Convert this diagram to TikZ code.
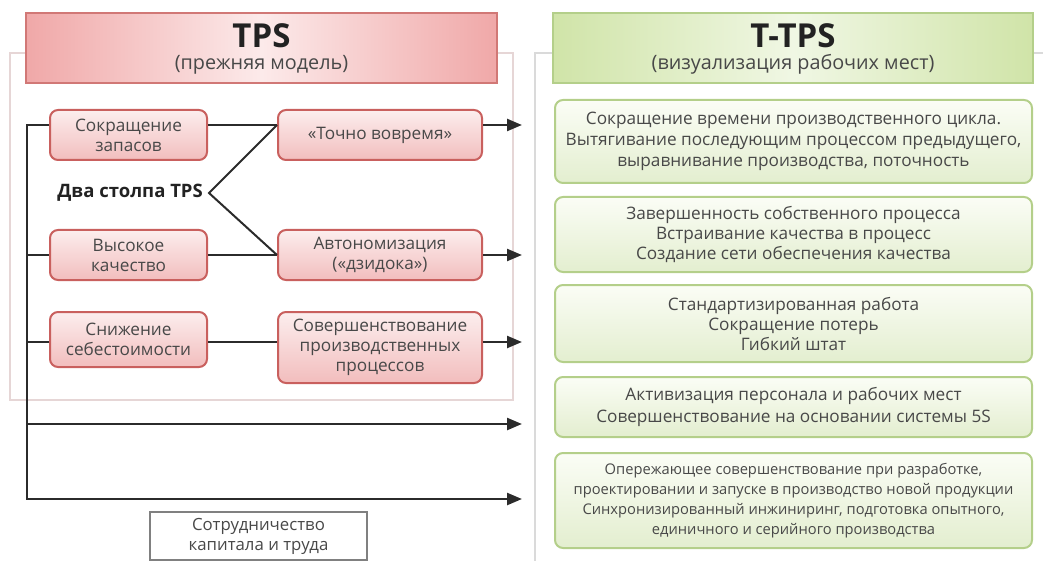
\documentclass[tikz,border=0pt]{standalone}
\usepackage{fontspec}
\setmainfont{Open Sans}
\usetikzlibrary{arrows.meta}
\definecolor{txt}{HTML}{484848}
\definecolor{ttl}{HTML}{222222}
\definecolor{pinkB}{HTML}{C9605E}
\definecolor{pinkT}{HTML}{FCEEEE}
\definecolor{pinkD}{HTML}{F2BDBD}
\definecolor{hpinkS}{HTML}{F0A8A8}
\definecolor{hpinkM}{HTML}{FCEAEA}
\definecolor{greenB}{HTML}{B4CF8A}
\definecolor{greenT}{HTML}{FBFDF6}
\definecolor{greenD}{HTML}{E3EECF}
\definecolor{hgreenS}{HTML}{D0E4A8}
\definecolor{hgreenM}{HTML}{F0F7E4}
\definecolor{lineC}{HTML}{2B2B2B}
\definecolor{panelL}{HTML}{E6D6D6}
\definecolor{panelR}{HTML}{DADADA}
\tikzset{
  pbox/.style={draw=pinkB, line width=2pt, rounded corners=8pt, top color=pinkT, bottom color=pinkD,
    align=center, inner sep=0pt, text=txt, font=\fontsize{17.2}{20}\selectfont},
  gbox/.style={draw=greenB, line width=2pt, rounded corners=8pt, top color=greenT, bottom color=greenD,
    align=center, inner sep=0pt, text=txt, font=\fontsize{17.2}{21}\selectfont, minimum width=477pt},
  phead/.style={draw=pinkB!85, line width=1.6pt, left color=hpinkS, right color=hpinkS, middle color=hpinkM,
    inner sep=0pt},
  ghead/.style={draw=greenB, line width=1.6pt, left color=hgreenS, right color=hgreenS, middle color=hgreenM,
    inner sep=0pt},
  htitle/.style={anchor=base, inner sep=0pt, text=ttl, font=\fontsize{33}{36}\selectfont\bfseries},
  hsub/.style={anchor=base, inner sep=0pt, text=txt, font=\fontsize{19.8}{22}\selectfont},
  conn/.style={draw=lineC, line width=2.4pt},
  arr/.style={conn, -{Triangle[length=15pt,width=12pt]}},
  panelstyle/.style={line width=1.2pt},
}
\begin{document}
\begin{tikzpicture}[x=1pt,y=-1pt]
\useasboundingbox (0,0) rectangle (1043,561);
% panels
\draw[panelstyle, draw=panelL] (10,53) rectangle (513,400);
\draw[panelstyle, draw=panelR] (1043,53) -- (535,53) -- (535,561);
% headers
\node[phead, minimum width=471pt, minimum height=70pt] (h1) at (261.5,48) {};
\node[htitle] (h1t) at (261.5,48) {TPS};
\node[hsub] (h1s) at (261.5,70) {(прежняя модель)};
\node[ghead, minimum width=480pt, minimum height=70pt] (h2) at (793,48) {};
\node[htitle] (h2t) at (793,48) {T-TPS};
\node[hsub] (h2s) at (793,70) {(визуализация рабочих мест)};
% coordinates
\coordinate (v1) at (27,125);
\coordinate (v2) at (27,255);
\coordinate (v3) at (27,342);
\coordinate (v4) at (27,424);
\coordinate (v5) at (27,499);
\coordinate (e1) at (522,125);
\coordinate (e2) at (522,255);
\coordinate (e3) at (522,342);
\coordinate (e4) at (522,424);
\coordinate (e5) at (522,499);
\coordinate (br) at (209,193);
% left boxes
\node[pbox, minimum width=157pt, minimum height=50pt] (s1) at (128.5,135) {Сокращение\\запасов};
\node[pbox, minimum width=204pt, minimum height=50pt] (t1) at (380,135) {«Точно вовремя»};
\node[pbox, minimum width=157pt, minimum height=50pt] (s2) at (128.5,255) {Высокое\\качество};
\node[pbox, minimum width=204pt, minimum height=50pt] (t2) at (380,255) {Автономизация\\(«дзидока»)};
\node[pbox, minimum width=157pt, minimum height=55pt] (s3) at (128.5,339.5) {Снижение\\себестоимости};
\node[pbox, minimum width=204pt, minimum height=71pt] (t3) at (380,347.5) {Совершенствование\\производственных\\процессов};
\node[anchor=east, inner sep=0pt, text=ttl, font=\fontsize{18.5}{20}\selectfont\bfseries] (dva) at (203,193) {Два столпа TPS};
% connectors
\draw[arr] (s1.west |- v1) -- (v1) -- (v5) -- (e5);
\draw[conn] (s1.east |- v1) -- (t1.west |- v1);
\draw[arr] (t1.east |- v1) -- (e1);
\draw[conn] (v2) -- (s2.west |- v2);
\draw[conn] (s2.east |- v2) -- (t2.west |- v2);
\draw[arr] (t2.east |- v2) -- (e2);
\draw[conn] (v3) -- (s3.west |- v3);
\draw[conn] (s3.east |- v3) -- (t3.west |- v3);
\draw[arr] (t3.east |- v3) -- (e3);
\draw[arr] (v4) -- (e4);
\draw[draw=lineC, line width=2pt] (t1.west |- v1) -- (br) -- (t2.west |- v2);
% bottom box
\node[draw=gray, line width=1.2pt, minimum width=217pt, minimum height=48pt, align=center, inner sep=0pt,
  text=txt, font=\fontsize{16.8}{20}\selectfont] (kap) at (258.5,536) {Сотрудничество\\капитала и труда};
% right boxes
\node[gbox, minimum height=83pt] (g1) at (793.5,141.5)
  {Сокращение времени производственного цикла.\\Вытягивание последующим процессом предыдущего,\\выравнивание производства, поточность};
\node[gbox, minimum height=75pt, font=\fontsize{17.2}{20}\selectfont] (g2) at (793.5,234.5)
  {Завершенность собственного процесса\\Встраивание качества в процесс\\Создание сети обеспечения качества};
\node[gbox, minimum height=77pt, font=\fontsize{17.2}{20}\selectfont] (g3) at (793.5,323.5)
  {Стандартизированная работа\\Сокращение потерь\\Гибкий штат};
\node[gbox, minimum height=60pt, font=\fontsize{17.2}{22}\selectfont] (g4) at (793.5,407)
  {Активизация персонала и рабочих мест\\Совершенствование на основании системы 5S};
\node[gbox, minimum height=95pt, font=\fontsize{14.7}{20}\selectfont] (g5) at (793.5,500.5)
  {Опережающее совершенствование при разработке,\\проектировании и запуске в производство новой продукции\\Синхронизированный инжиниринг, подготовка опытного,\\единичного и серийного производства};
\end{tikzpicture}
\end{document}
